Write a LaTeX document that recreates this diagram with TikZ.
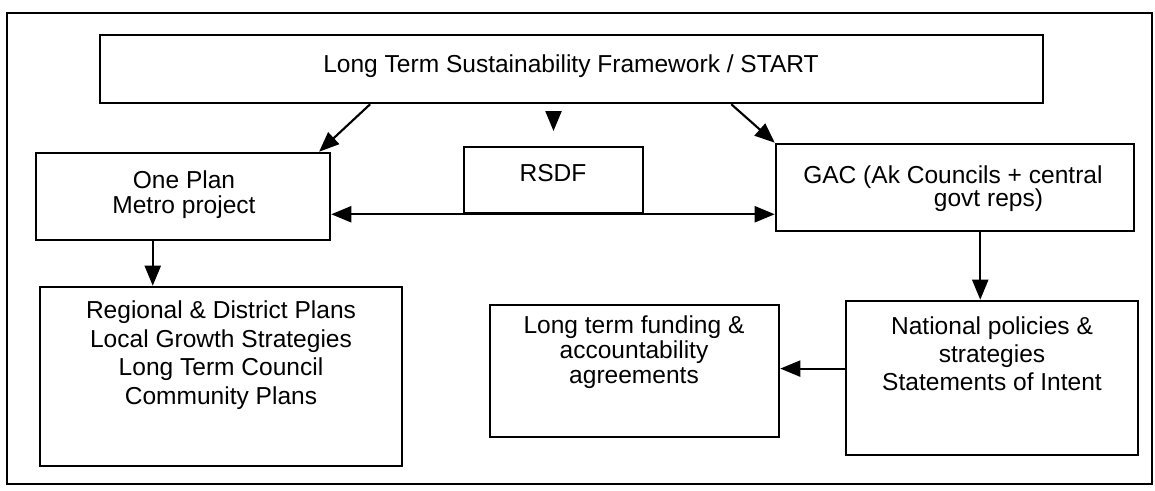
\documentclass[tikz,border=0pt]{standalone}
\usepackage{fontspec}
\setmainfont{Liberation Sans}
\usetikzlibrary{arrows.meta,calc,fit}
\newcommand\fsz[1]{\fontsize{18.4pt}{#1}\selectfont}
\begin{document}
\begin{tikzpicture}[x=0.75pt,y=-0.75pt,
  box/.style={draw, line width=1.9pt, inner sep=0pt, rectangle},
  txt/.style={align=center, inner sep=0pt},
  arr/.style={line width=1.6pt, -{Triangle[length=15pt,width=12pt]}},
  darr/.style={line width=1.6pt, {Triangle[length=15pt,width=12pt]}-{Triangle[length=15pt,width=12pt]}}]
\useasboundingbox (0,0) rectangle (1155,491);
% boxes
\node[box, line width=1.7pt, fit={(7,13) (1152,484)}] (frame) {};
\node[box, fit={(100,35) (1043,103)}] (top) {};
\node[box, fit={(36,153) (330,240)}] (oneplan) {};
\node[box, fit={(464,147) (643,213)}] (rsdf) {};
\node[box, fit={(776,144) (1134,231)}] (gac) {};
\node[box, fit={(40,287) (402,466)}] (reg) {};
\node[box, fit={(490,305) (779,437)}] (fund) {};
\node[box, fit={(846,301) (1138,455)}] (nat) {};
% texts
\node[txt, font=\fsz{21pt}] (toptext) at (571,66) {Long Term Sustainability Framework / START};
\node[txt, font=\fsz{18.75pt}] (onetext) at (184,194.5) {One Plan\\Metro project};
\node[txt, font=\fsz{21pt}] (rsdftext) at (553,173) {RSDF};
\node[txt, font=\fsz{17.25pt}, align=left, anchor=west] (gactext) at (803,188.5) {GAC (Ak Councils + central\\\hspace*{98pt}govt reps)};
\node[txt, font=\fsz{21.5pt}] (regtext) at (221,355) {Regional \& District Plans\\Local Growth Strategies\\Long Term Council\\Community Plans};
\node[txt, font=\fsz{18.75pt}] (fundtext) at (634,352) {Long term funding \&\\accountability\\agreements};
\node[txt, font=\fsz{21pt}] (nattext) at (992,354) {National policies \&\\strategies\\Statements of Intent};
% connectors
\draw[arr] ($(top.south west)!0.287!(top.south east)$) -- ($(oneplan.north west)!0.959!(oneplan.north east)$);
\draw[arr, shorten <=7pt, shorten >=11pt] (top.south -| rsdf.north) -- (rsdf.north);
\draw[arr] ($(top.south west)!0.669!(top.south east)$) -- (gac.north west);
\draw[darr] (oneplan.east |- rsdf.south) -- (gac.west |- rsdf.south);
\draw[arr] ($(oneplan.south west)!0.398!(oneplan.south east)$) coordinate (p1) -- (p1 |- reg.north);
\draw[arr] ($(gac.south west)!0.57!(gac.south east)$) coordinate (p2) -- (p2 |- nat.north);
\draw[arr] ($(nat.north west)!0.44!(nat.south west)$) coordinate (p3) -- (p3 -| fund.east);
\end{tikzpicture}
\end{document}
